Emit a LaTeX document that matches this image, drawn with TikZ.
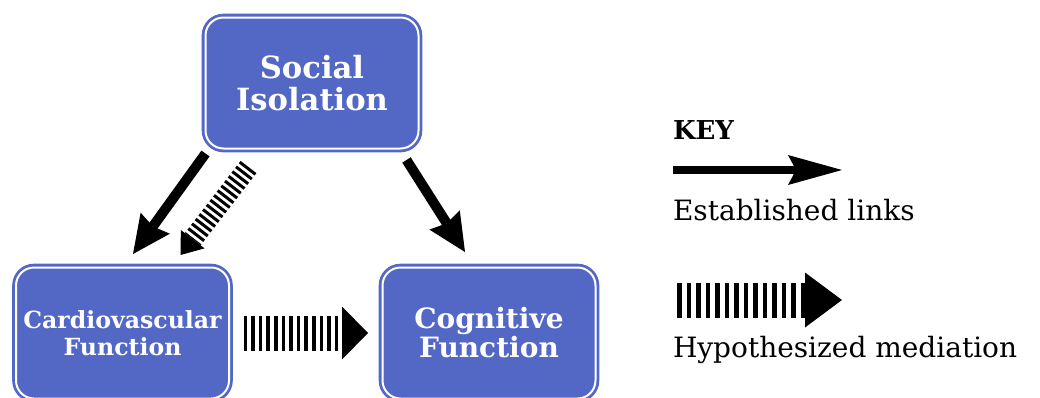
\documentclass[tikz,border=0pt]{standalone}
\usepackage{fontspec}
\setmainfont{DejaVu Serif}
\usetikzlibrary{arrows.meta,calc}
\definecolor{boxblue}{RGB}{83,103,197}

\begin{document}
\begin{tikzpicture}[x=0.5pt,y=-0.5pt,inner sep=0pt,outer sep=0pt,
factorblock/.style={draw=boxblue,fill=boxblue,line width=1.4pt,double=white,double distance=1pt,rounded corners=9pt,minimum width=106.5pt,minimum height=65.5pt,align=center,text=white},
established/.style={line width=5pt,-{Stealth[length=19pt,width=18pt,inset=2pt,line width=0pt]}},
hypothesized/.style={line width=17.5pt,dash pattern=on 1.8pt off 2pt,-{Triangle[length=13pt,width=26.5pt,line width=0pt]}},
hypodiag/.style={line width=10pt,dash pattern=on 1.5pt off 1.5pt,-{Triangle[length=10pt,width=15pt,line width=0pt]}},
keyestablished/.style={line width=4pt,-{Stealth[length=27pt,width=15pt,inset=4pt,line width=0pt]}},
keyhypothesized/.style={line width=17.5pt,dash pattern=on 2.3pt off 2.45pt,-{Triangle[length=18.5pt,width=27.5pt,line width=0pt]}},
keytext/.style={anchor=west,font=\fontsize{14}{16}\selectfont}]

\useasboundingbox (0,0) rectangle (1040,397);
\clip (0,0) rectangle (1040,397);

\draw (312,83) node[factorblock,font=\bfseries\fontsize{15.3}{16}\selectfont] (social) {Social\\Isolation};
\draw (122.5,333) node[factorblock,font=\bfseries\fontsize{11.8}{13.5}\selectfont] (cardio) {Cardiovascular\\Function};
\draw (489,333) node[factorblock,font=\bfseries\fontsize{14}{14.5}\selectfont] (cog) {Cognitive\\Function};

\draw[established] ($(social.south west)+(0,5)$) -- ($(cardio.north)+(10.5,-13.5)$);
\draw[hypodiag] ($(social.south west)+(43,18.5)$) -- ($(cardio.north east)+(-48.5,-12.5)$);
\draw[established] ($(social.south east)+(-12,11.5)$) -- ($(cog.north)+(-24,-15.5)$);
\draw[hypothesized,shorten <=7.25pt,shorten >=7.25pt] (cardio.east) -- (cog.west);

\draw (673,130) node[anchor=west,font=\bfseries\fontsize{13}{13}\selectfont] (key) {KEY};
\coordinate (est1) at (673,170);
\coordinate (est2) at (842,170);
\draw[keyestablished] (est1) -- (est2);
\draw (673,210) node[keytext] (estlabel) {Established links};
\coordinate (hyp1) at (677,300);
\coordinate (hyp2) at (842,300);
\draw[keyhypothesized] (hyp1) -- (hyp2);
\draw (673,350) node[keytext] (hyplabel) {Hypothesized mediation};
\end{tikzpicture}
\end{document}
